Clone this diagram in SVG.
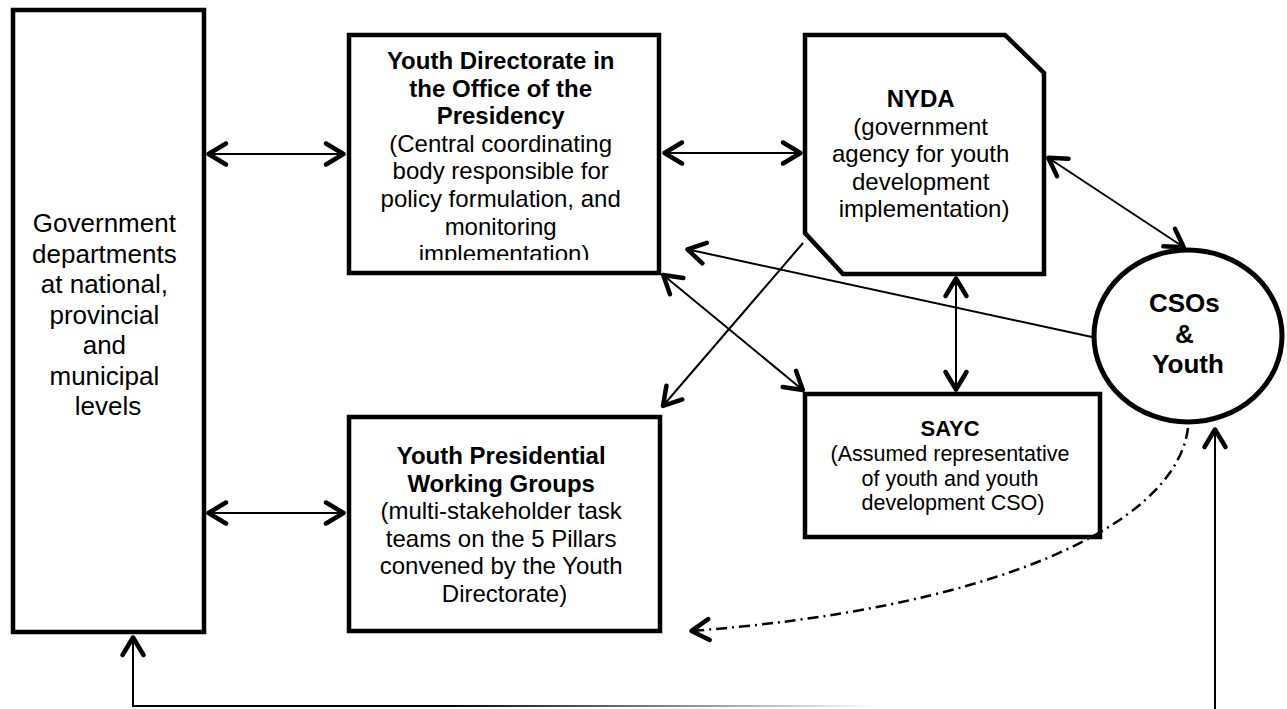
<svg xmlns="http://www.w3.org/2000/svg" width="1287" height="709" viewBox="0 0 1287 709">
<style>
.box{fill:#fff;stroke:#000;stroke-width:4.5;stroke-linejoin:miter}
.t{font-family:"Liberation Sans",Arial,sans-serif;font-size:24px;fill:#000;text-anchor:middle}
.b{font-weight:bold}
.c{fill:none;stroke:#000;stroke-width:2}
</style>
<defs>
<marker id="ah" viewBox="-25 -15 30 30" refX="0" refY="0" markerWidth="30" markerHeight="30" markerUnits="userSpaceOnUse" orient="auto-start-reverse" overflow="visible">
<path d="M-19,-10.5 L-1.5,0 L-19,10.5" fill="none" stroke="#000" stroke-width="4.5" stroke-linecap="round" stroke-linejoin="round"/>
</marker>
<linearGradient id="fade" gradientUnits="userSpaceOnUse" x1="440" y1="0" x2="880" y2="0">
<stop offset="0" stop-color="#000"/>
<stop offset="1" stop-color="#fff"/>
</linearGradient>
<clipPath id="ydclip"><rect x="350" y="37" width="307" height="223"/></clipPath>
</defs>

<g id="gov">
<rect class="box" x="13" y="10" width="191" height="622"/>
<text class="t" style="font-size:26px" x="108" y="232">
<tspan x="108">Government</tspan>
<tspan x="108" dy="30.5">departments</tspan>
<tspan x="108" dy="30.5">at national,</tspan>
<tspan x="108" dy="30.5">provincial</tspan>
<tspan x="108" dy="30.5">and</tspan>
<tspan x="108" dy="30.5">municipal</tspan>
<tspan x="108" dy="30.5">levels</tspan>
</text>
</g>

<g id="youth-directorate">
<rect class="box" x="349" y="35" width="310" height="238"/>
<g clip-path="url(#ydclip)">
<text class="t" x="504" y="69">
<tspan class="b" x="504">Youth Directorate in</tspan>
<tspan class="b" x="504" dy="27.6">the Office of the</tspan>
<tspan class="b" x="504" dy="27.6">Presidency</tspan>
<tspan x="504" dy="27.6">(Central coordinating</tspan>
<tspan x="504" dy="27.6">body responsible for</tspan>
<tspan x="504" dy="27.6">policy formulation, and</tspan>
<tspan x="504" dy="27.6">monitoring</tspan>
<tspan x="504" dy="27.6">implementation)</tspan>
</text>
</g>
</g>

<g id="nyda">
<path class="box" d="M805,35 H1005 L1044,73 V274 H843 L805,233 Z"/>
<text class="t" x="924" y="107">
<tspan class="b" x="924">NYDA</tspan>
<tspan x="924" dy="27.5">(government</tspan>
<tspan x="924" dy="27.5">agency for youth</tspan>
<tspan x="924" dy="27.5">development</tspan>
<tspan x="924" dy="27.5">implementation)</tspan>
</text>
</g>

<g id="ypwg">
<rect class="box" x="349" y="417" width="311" height="214"/>
<text class="t" x="504.5" y="464">
<tspan class="b" x="504.5">Youth Presidential</tspan>
<tspan class="b" x="504.5" dy="27.5">Working Groups</tspan>
<tspan x="504.5" dy="27.5">(multi-stakeholder task</tspan>
<tspan x="504.5" dy="27.5">teams on the 5 Pillars</tspan>
<tspan x="504.5" dy="27.5">convened by the Youth</tspan>
<tspan x="504.5" dy="27.5">Directorate)</tspan>
</text>
</g>

<g id="sayc">
<rect class="box" x="805" y="394" width="295" height="143"/>
<text class="t" style="font-size:21.5px" x="953" y="436">
<tspan class="b" style="font-size:22px" x="953">SAYC</tspan>
<tspan x="953" dy="24.8">(Assumed representative</tspan>
<tspan x="953" dy="24.8">of youth and youth</tspan>
<tspan x="953" dy="24.8">development CSO)</tspan>
</text>
</g>

<g id="csos">
<ellipse class="box" style="stroke-width:5" cx="1188" cy="336" rx="94" ry="86"/>
<text class="t b" style="font-size:26px" x="1188" y="312">
<tspan x="1188">CSOs</tspan>
<tspan x="1188" dy="30.5">&amp;</tspan>
<tspan x="1188" dy="30.5">Youth</tspan>
</text>
</g>

<g id="connectors">
<line class="c" x1="207" y1="154" x2="345" y2="154" marker-start="url(#ah)" marker-end="url(#ah)"/>
<line class="c" x1="207" y1="513" x2="345" y2="513" marker-start="url(#ah)" marker-end="url(#ah)"/>
<line class="c" x1="663" y1="153" x2="802" y2="153" marker-start="url(#ah)" marker-end="url(#ah)"/>
<line class="c" x1="1047" y1="157" x2="1185" y2="248" marker-start="url(#ah)" marker-end="url(#ah)"/>
<line class="c" x1="956" y1="277" x2="956" y2="391" marker-start="url(#ah)" marker-end="url(#ah)"/>
<line class="c" x1="662" y1="274" x2="804" y2="391" marker-start="url(#ah)" marker-end="url(#ah)"/>
<line class="c" x1="803" y1="243" x2="662" y2="407" marker-end="url(#ah)"/>
<line class="c" x1="1092" y1="337" x2="686" y2="249" marker-end="url(#ah)"/>
<path class="c" style="stroke-width:2.5;stroke-dasharray:11 5 2 5" d="M1188,428 C1175,530 980,610 690,631" marker-end="url(#ah)"/>
<line class="c" x1="1215" y1="709" x2="1215" y2="428" marker-end="url(#ah)"/>
<path fill="none" stroke="url(#fade)" stroke-width="2" d="M880,706 H133 V636"/>
<line class="c" x1="133" y1="660" x2="133" y2="636" marker-end="url(#ah)"/>
</g>
</svg>
